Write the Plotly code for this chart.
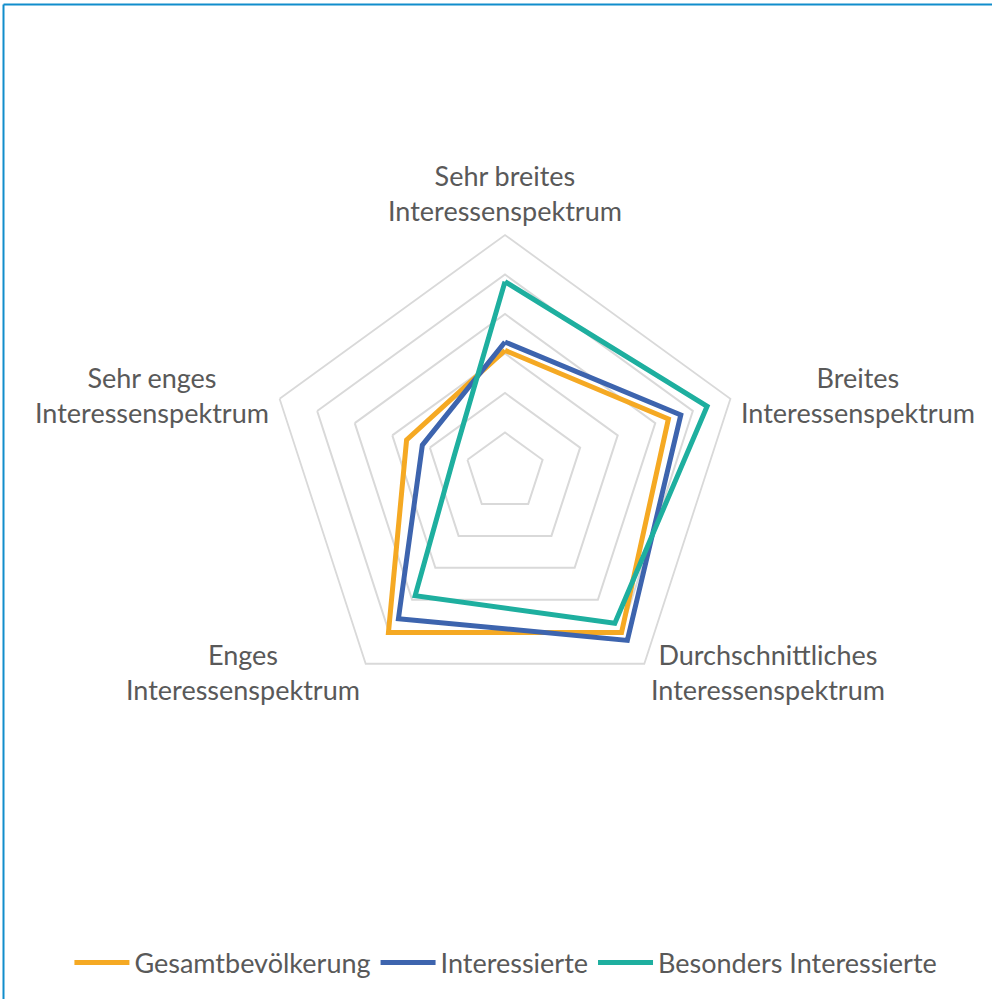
import math
import plotly.graph_objects as go

categories = [
    "Sehr breites<br>Interessenspektrum",
    "Breites<br>Interessenspektrum",
    "Durchschnittliches<br>Interessenspektrum",
    "Enges<br>Interessenspektrum",
    "Sehr enges<br>Interessenspektrum",
]
gesamt = [30.8, 43.5, 50.2, 50.2, 26.2]
interessierte = [32.9, 46.8, 52.7, 45.9, 22.0]
besonders = [48.2, 53.8, 47.3, 38.7, 13.5]

series = [
    ("Gesamtbevölkerung", gesamt, "#F5A923"),
    ("Interessierte", interessierte, "#3D64AE"),
    ("Besonders Interessierte", besonders, "#1EAF9F"),
]

fig = go.Figure()
for name, vals, color in series:
    fig.add_trace(go.Scatterpolar(
        r=vals + vals[:1],
        theta=categories + categories[:1],
        mode="lines",
        name=name,
        line=dict(color=color, width=5),
    ))

W, H = 992, 999
cx, cy, R = 505, 472, 237
TEXT = "#595959"

# category labels placed beside each vertex of the pentagon
label_offsets = [(0, -42, "center"), (9, -4, "left"), (5, 8, "left"),
                 (-4, 8, "right"), (-9, -4, "right")]
annotations = []
n = len(categories)
for i, (cat, (dx, dy, xa)) in enumerate(zip(categories, label_offsets)):
    ang = 2 * math.pi * i / n
    vx = cx + R * math.sin(ang)
    vy = cy - R * math.cos(ang)
    annotations.append(dict(
        text=cat, x=(vx + dx) / W, y=1 - (vy + dy) / H,
        xref="paper", yref="paper", xanchor=xa, yanchor="middle",
        align="center", showarrow=False,
        font=dict(family="Lato", size=27, color=TEXT),
    ))

fig.update_layout(
    width=W, height=H,
    margin=dict(l=0, r=0, t=0, b=0),
    paper_bgcolor="white",
    font=dict(family="Lato", size=27, color=TEXT),
    polar=dict(
        domain=dict(x=[(cx - R) / W, (cx + R) / W],
                    y=[(H - cy - R) / H, (H - cy + R) / H]),
        bgcolor="white",
        gridshape="linear",
        radialaxis=dict(range=[0, 60], dtick=10, showticklabels=False,
                        ticks="", showline=False, gridcolor="#D9D9D9",
                        gridwidth=1.8),
        angularaxis=dict(rotation=90, direction="clockwise",
                         showgrid=False, ticks="", showline=True,
                         showticklabels=False,
                         linecolor="#D9D9D9", linewidth=1.8),
    ),
    legend=dict(orientation="h", x=0.51, xanchor="center", y=1 - 963 / H,
                yanchor="middle", font=dict(size=27, color=TEXT),
                itemwidth=55, tracegroupgap=0),
    annotations=annotations,
    shapes=[
        dict(type="line", xref="paper", yref="paper", x0=3.5 / W, x1=3.5 / W,
             y0=0, y1=1 - 4.5 / H, line=dict(color="#118DCC", width=2)),
        dict(type="line", xref="paper", yref="paper", x0=3.5 / W, x1=1,
             y0=1 - 4.5 / H, y1=1 - 4.5 / H, line=dict(color="#118DCC", width=2)),
    ],
)
fig.write_html("out.html", config={"displayModeBar": False},
               post_script="document.body.style.margin='0';document.body.style.overflow='hidden';")
